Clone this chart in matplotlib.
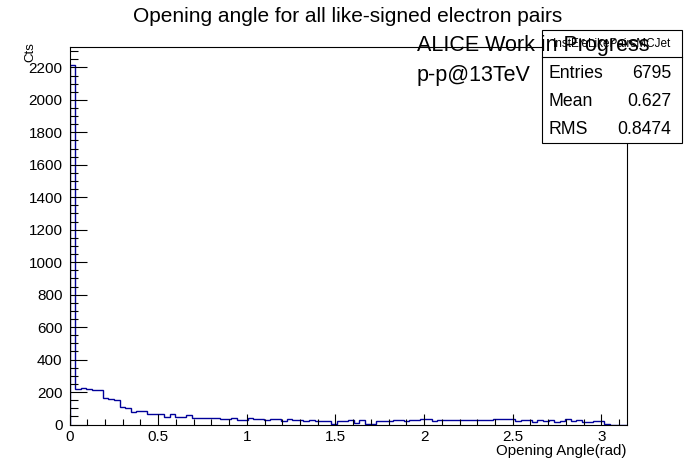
import numpy as np
import matplotlib
matplotlib.use("Agg")
import matplotlib.pyplot as plt
from matplotlib.patches import Rectangle
from matplotlib.lines import Line2D
from matplotlib.ticker import MultipleLocator, FuncFormatter

plt.rcParams['font.family'] = ['Liberation Sans', 'DejaVu Sans']

# ---- data (counts per bin, 100 bins between 0 and pi) ----
counts = [2215, 220, 227, 220, 214, 214, 161, 158, 152, 109,
          103, 80, 82, 82, 66, 62, 66, 49, 66, 49,
          49, 56, 41, 41, 41, 41, 41, 35, 31, 41,
          29, 29, 41, 35, 31, 25, 35, 31, 21, 31,
          27, 27, 21, 25, 19, 19, 19, 4, 19, 19,
          29, 10, 25, 4, 4, 19, 19, 19, 25, 25,
          19, 25, 25, 31, 35, 21, 25, 29, 29, 25,
          25, 25, 25, 25, 25, 25, 31, 35, 31, 31,
          21, 25, 29, 14, 25, 21, 25, 14, 21, 31,
          21, 25, 14, 14, 21, 21, 4, 0, 0, 0]
x_min, x_max = 0.0, np.pi
title = "Opening angle for all like-signed electron pairs"
x_label = "Opening Angle(rad)"
y_label = "Cts"
hist_name = "InstEleLikePairsMCJet"
stat_labels = ["Entries", "Mean", "RMS"]
stat_values = ["6795", "0.627", "0.8474"]

W, H = 696, 472
fig = plt.figure(figsize=(W / 100, H / 100), dpi=100)
fig.patch.set_facecolor("white")

L, R, T, B = 69.5, 626.5, 47, 424.5
ax = fig.add_axes([L / W, 1 - B / H, (R - L) / W, (B - T) / H])

edges = np.linspace(x_min, x_max, len(counts) + 1)
ax.stairs(counts, edges, color="#000099", linewidth=1.0, baseline=0)

ax.set_xlim(x_min, x_max)
ax.set_ylim(0, 1.05 * max(counts))

ax.xaxis.set_major_locator(MultipleLocator(0.5))
ax.xaxis.set_minor_locator(MultipleLocator(0.1))
ax.yaxis.set_major_locator(MultipleLocator(200))
ax.yaxis.set_minor_locator(MultipleLocator(50))
ax.xaxis.set_major_formatter(FuncFormatter(lambda v, p: f"{v:g}"))
ax.yaxis.set_major_formatter(FuncFormatter(lambda v, p: f"{v:g}"))

ax.tick_params(axis="y", which="major", direction="in", length=12.5, width=0.8, labelsize=11, pad=5)
ax.tick_params(axis="y", which="minor", direction="in", length=6, width=0.8)
ax.tick_params(axis="x", which="major", direction="in", length=8, width=0.8, labelsize=11, pad=4)
ax.tick_params(axis="x", which="minor", direction="in", length=4.3, width=0.8)
for s in ax.spines.values():
    s.set_linewidth(0.8)

# titles / labels
fig.text(0.5, 1 - 17 / H, title, ha="center", va="center", fontsize=15)
fig.text(R / W, 1 - 451 / H, x_label, ha="right", va="center", fontsize=10.8)
fig.text(30 / W, 1 - 42 / H, y_label, ha="center", va="top", rotation=90, fontsize=9.5)

# stats box
bx0, bx1, by0, by1 = 542, 682, 30, 143
fig.patches.append(Rectangle((bx0 / W, 1 - by1 / H), (bx1 - bx0) / W, (by1 - by0) / H,
                             transform=fig.transFigure, facecolor="white",
                             edgecolor="black", linewidth=0.8, zorder=5))
fig.lines.append(Line2D([bx0 / W, bx1 / W], [1 - 57 / H, 1 - 57 / H],
                        transform=fig.transFigure, color="black", linewidth=0.8, zorder=6))
fig.text((bx0 + bx1) / 2 / W, 1 - 44 / H, hist_name, ha="center", va="center",
         fontsize=8.5, zorder=6)
for i, (lab, val) in enumerate(zip(stat_labels, stat_values)):
    yy = 1 - (74 + 28 * i) / H
    fig.text(549 / W, yy, lab, ha="left", va="center", fontsize=12.7, zorder=6)
    fig.text(671 / W, yy, val, ha="right", va="center", fontsize=12.7, zorder=6)

fig.text(417 / W, 1 - 45 / H, "ALICE Work in Progress", ha="left", va="center",
         fontsize=15.5, zorder=10)
fig.text(417 / W, 1 - 75 / H, "p-p@13TeV", ha="left", va="center",
         fontsize=15.5, zorder=10)

fig.savefig("out.png", dpi=100, facecolor="white")
